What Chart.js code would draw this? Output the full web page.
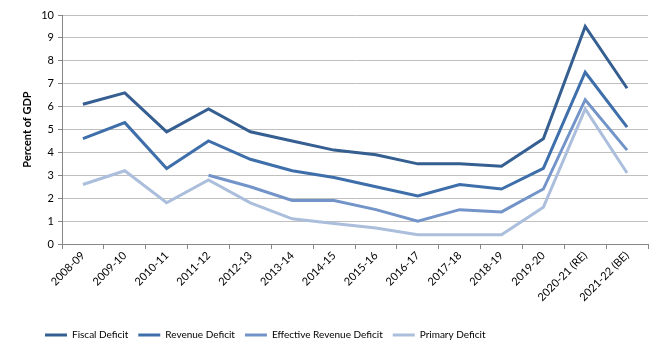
<!DOCTYPE html>
<html>
<head>
<meta charset="utf-8">
<script src="https://cdn.jsdelivr.net/npm/chart.js@4"></script>
<style>
  html, body { margin: 0; padding: 0; background: #fff; }
  #wrap { width: 663px; height: 354px; position: relative; }
</style>
</head>
<body>
<div id="wrap"><canvas id="chart"></canvas></div>
<script>
"use strict";

const years = ['2008-09','2009-10','2010-11','2011-12','2012-13','2013-14','2014-15',
               '2015-16','2016-17','2017-18','2018-19','2019-20','2020-21 (RE)','2021-22 (BE)'];
const fiscalDeficit    = [6.1, 6.6, 4.9, 5.9, 4.9, 4.5, 4.1, 3.9, 3.5, 3.5, 3.4, 4.6, 9.5, 6.8];
const revenueDeficit   = [4.6, 5.3, 3.3, 4.5, 3.7, 3.2, 2.9, 2.5, 2.1, 2.6, 2.4, 3.3, 7.5, 5.1];
const effRevDeficit    = [null, null, null, 3.0, 2.5, 1.9, 1.9, 1.5, 1.0, 1.5, 1.4, 2.4, 6.3, 4.1];
const primaryDeficit   = [2.6, 3.2, 1.8, 2.8, 1.8, 1.1, 0.9, 0.7, 0.4, 0.4, 0.4, 1.6, 5.9, 3.1];
const yTicks = [0, 1, 2, 3, 4, 5, 6, 7, 8, 9, 10];

const FONT = 'Lato, Open Sans, sans-serif';
const txt = '#000';

function line(label, data, color) {
  return {
    label, data,
    borderColor: color,
    backgroundColor: color,
    borderWidth: 3,
    pointRadius: 0,
    tension: 0,
    spanGaps: false
  };
}

new Chart(document.getElementById('chart'), {
  type: 'line',
  data: {
    labels: years,
    datasets: [
      line('Fiscal Deficit', fiscalDeficit, '#355E91'),
      line('Revenue Deficit', revenueDeficit, '#3E6FAA'),
      line('Effective Revenue Deficit', effRevDeficit, '#7394C9'),
      line('Primary Deficit', primaryDeficit, '#ABBEDC')
    ]
  },
  options: {
    responsive: true,
    maintainAspectRatio: false,
    animation: false,
    layout: { padding: { top: 15, right: 15, bottom: 4, left: 35 } },
    plugins: {
      tooltip: { enabled: false },
      legend: {
        position: 'bottom',
        align: 'start',
        labels: {
          usePointStyle: true,
          pointStyle: 'line',
          pointStyleWidth: 22,
          boxHeight: 10,
          padding: 10,
          color: txt,
          font: { family: FONT, size: 10 },
          generateLabels(chart) {
            return chart.data.datasets.map((d, i) => ({
              text: d.label,
              strokeStyle: d.borderColor,
              fillStyle: d.borderColor,
              lineWidth: 3,
              pointStyle: 'line',
              datasetIndex: i,
              fontColor: txt
            }));
          }
        }
      }
    },
    scales: {
      x: {
        offset: true,
        grid: { offset: true, drawOnChartArea: false, drawTicks: true, tickLength: 5, color: '#868686' },
        border: { color: '#868686' },
        ticks: { color: txt, font: { family: FONT, size: 11 }, minRotation: 45, maxRotation: 45, padding: 0 },
        afterFit(s) { s.height = 76; }
      },
      y: {
        min: 0, max: 10,
        afterBuildTicks(s) { s.ticks = yTicks.map(v => ({ value: v })); },
        grid: { color: '#BFBFBF', lineWidth: 1, tickLength: 4, tickColor: '#868686' },
        border: { color: '#868686' },
        ticks: { color: txt, font: { family: FONT, size: 11 }, padding: 4 },
        title: { display: true, text: 'Percent of GDP', color: txt, font: { family: FONT, size: 11, weight: 'bold' }, padding: { top: -14, bottom: 0 } },
        afterFit(s) { s.width = 27; }
      }
    }
  }
});
</script>
</body>
</html>
